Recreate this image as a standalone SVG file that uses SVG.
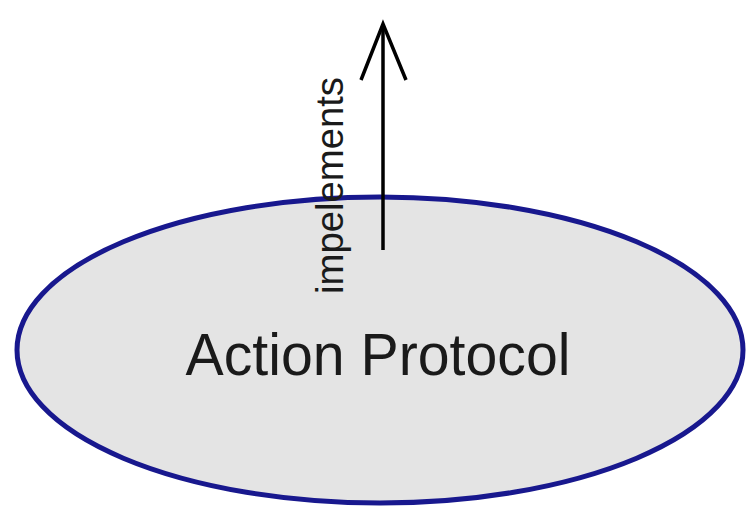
<svg xmlns="http://www.w3.org/2000/svg" width="748" height="508" viewBox="0 0 748 508">
  <style>
    .label { font-family: "Liberation Sans", Arial, sans-serif; fill: #1a1a1a; }
    .edge { stroke: #000; stroke-width: 3.5; fill: none; }
  </style>
  <rect width="748" height="508" fill="#ffffff"/>
  <g id="action-protocol">
    <ellipse cx="380" cy="350" rx="363" ry="153" fill="#e4e4e4" stroke="#18188e" stroke-width="5"/>
    <text class="label" x="378" y="375" font-size="60" text-anchor="middle" textLength="385" lengthAdjust="spacingAndGlyphs">Action Protocol</text>
  </g>
  <g id="connectors">
    <line class="edge" x1="383" y1="250" x2="383" y2="25"/>
    <polyline class="edge" points="361,80 383,24 406,80"/>
    <text class="label" transform="translate(343,294) rotate(-90)" font-size="38" textLength="217" lengthAdjust="spacingAndGlyphs">impelements</text>
  </g>
</svg>
